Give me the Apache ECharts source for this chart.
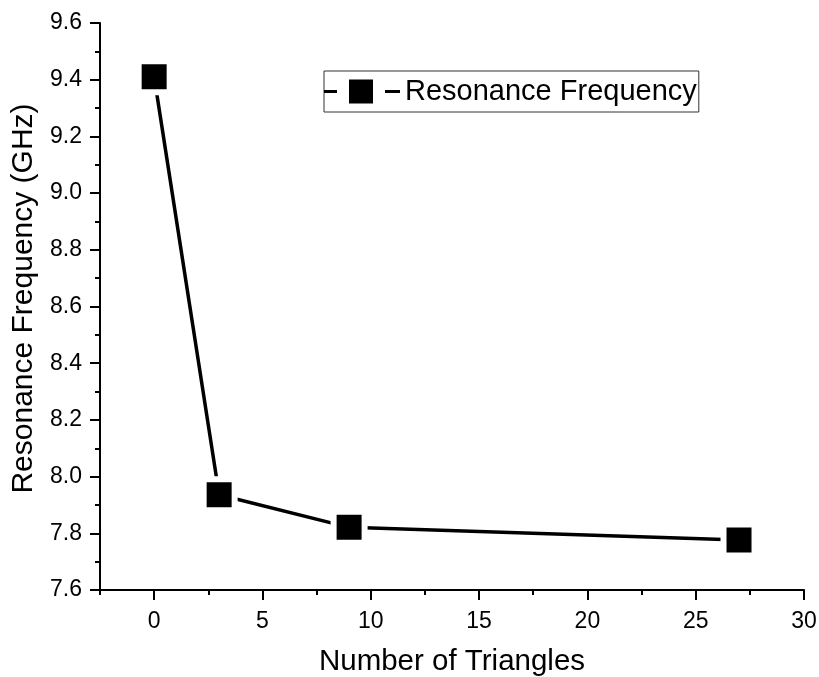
<!DOCTYPE html>
<html>
<head>
<meta charset="utf-8">
<script src="https://cdn.jsdelivr.net/npm/echarts@6/dist/echarts.min.js"></script>
<style>
  html, body { margin: 0; padding: 0; background: #fff; }
  #myChart { width: 819px; height: 677px; }
</style>
</head>
<body>
<div id="myChart"></div>
<script>
  // 数据
  const xValues = [0, 3, 9, 27];
  const freqValues = [9.41, 7.936, 7.821, 7.776];
  const xMajorTicks = [0, 5, 10, 15, 20, 25, 30];
  const xMinorTicks = [-2.5, 2.5, 7.5, 12.5, 17.5, 22.5, 27.5];
  const seriesName = 'Resonance Frequency';

  const font = 'Liberation Sans';
  const chart = echarts.init(document.getElementById('myChart'));

  const points = xValues.map((x, i) => [x, freqValues[i]]);

  let option = {
    animation: false,
    backgroundColor: '#fff',
    grid: { left: 100, right: 15, top: 23, bottom: 87, containLabel: false, outerBoundsMode: 'none' },
    legend: {
      left: 324,
      top: 71,
      orient: 'horizontal',
      padding: [6, 2, 6, 0],
      borderColor: '#333',
      borderWidth: 1,
      itemWidth: 76,
      itemHeight: 24,
      itemGap: 5,
      itemStyle: { color: '#000', borderWidth: 0 },
      data: [{
        name: seriesName,
        icon: 'path://M0 10.5h13v3H0z M25 0h24v24H25z M61 10.5h15v3H61z'
      }],
      textStyle: { fontFamily: font, fontSize: 29, color: '#000' }
    },
    xAxis: [{
      type: 'value',
      min: -2.5,
      max: 30,
      position: 'bottom',
      name: 'Number of Triangles',
      nameLocation: 'middle',
      nameGap: 57,
      nameTextStyle: { fontFamily: font, fontSize: 29.5, color: '#000' },
      splitLine: { show: false },
      axisLine: { onZero: false, lineStyle: { color: '#000', width: 2 } },
      axisTick: { inside: false, length: 10, customValues: xMajorTicks, lineStyle: { color: '#000', width: 2 } },
      axisLabel: { customValues: xMajorTicks, margin: 20, fontFamily: font, fontSize: 23, color: '#000' }
    }, {
      // 次刻度
      type: 'value',
      min: -2.5,
      max: 30,
      position: 'bottom',
      splitLine: { show: false },
      axisLine: { show: false, onZero: false },
      axisTick: { inside: false, length: 5, customValues: xMinorTicks, lineStyle: { color: '#000', width: 2 } },
      axisLabel: { show: false }
    }],
    yAxis: {
      type: 'value',
      min: 7.6,
      max: 9.6,
      interval: 0.2,
      name: 'Resonance Frequency (GHz)',
      nameLocation: 'middle',
      nameGap: 61,
      nameTextStyle: { fontFamily: font, fontSize: 30, color: '#000', padding: [0, 0, 0, 16] },
      splitLine: { show: false },
      axisLine: { show: true, onZero: false, lineStyle: { color: '#000', width: 2 } },
      axisTick: { inside: false, length: 10, lineStyle: { color: '#000', width: 2 } },
      minorTick: { show: true, splitNumber: 2, length: 5, lineStyle: { color: '#000', width: 2 } },
      axisLabel: {
        margin: 18,
        fontFamily: font,
        fontSize: 23,
        color: '#000',
        formatter: v => v.toFixed(1)
      }
    },
    series: [{
      name: seriesName,
      type: 'line',
      xAxisIndex: 0,
      data: points,
      symbol: 'rect',
      symbolSize: 31,
      color: '#000',
      lineStyle: { color: '#000', width: 3.5 },
      itemStyle: { color: '#000', borderColor: '#fff', borderWidth: 6 }
    }]
  };
  chart.setOption(option);
</script>
</body>
</html>
